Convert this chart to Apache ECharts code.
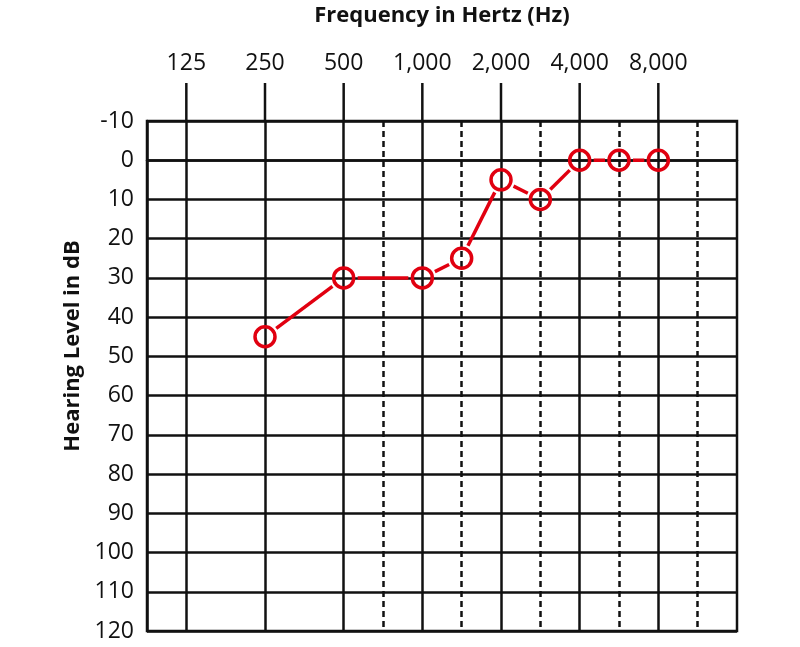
<!DOCTYPE html>
<html>
<head>
<meta charset="utf-8">
<script src="https://cdn.jsdelivr.net/npm/echarts@6/dist/echarts.min.js"></script>
<style>
html,body{margin:0;padding:0;background:#fff;}
#chart{width:800px;height:647px;}
</style>
</head>
<body>
<div id="chart"></div>
<script>
// Half-octave slots along the frequency axis (Hz)
const freqCategories = ['88','125','177','250','354','500','750','1000','1500','2000','3000','4000','6000','8000','12000','16000'];
// Labelled octave frequencies (solid lines)
const octaveFreqs = ['125','250','500','1000','2000','4000','8000'];
// Inter-octave frequencies (dashed lines)
const interOctaveFreqs = ['750','1500','3000','6000','12000'];
// Test results
const testFreqs = ['250','500','1000','1500','2000','3000','4000','6000','8000'];
const hearingLevels = [45, 30, 30, 25, 5, 10, 0, 0, 0];
// Hearing level axis
const dbMin = -10, dbMax = 120, dbStep = 10;

const RED = '#e10010';
const INK = '#111';
const FONT = 'Open Sans';
const TICK_LEN = 38;

const octaveIdx = new Set(octaveFreqs.map(f => freqCategories.indexOf(f)));
const interIdx = new Set(interOctaveFreqs.map(f => freqCategories.indexOf(f)));

const segData = testFreqs.slice(1).map((f, i) => [
  freqCategories.indexOf(testFreqs[i]), hearingLevels[i],
  freqCategories.indexOf(f), hearingLevels[i + 1]
]);
const tickData = octaveFreqs.map(f => [freqCategories.indexOf(f), dbMin]);

const chart = echarts.init(document.getElementById('chart'), null, {renderer: 'canvas'});
chart.setOption({
  backgroundColor: '#fff',
  animation: false,
  grid: {left: 147, right: 63, top: 121, bottom: 16, show: true, borderColor: INK, borderWidth: 2.5, backgroundColor: 'transparent'},
  xAxis: [{
    type: 'category',
    position: 'top',
    data: freqCategories,
    boundaryGap: false,
    name: 'Frequency in Hertz (Hz)',
    nameLocation: 'middle',
    nameGap: 94,
    nameTextStyle: {fontFamily: FONT, fontWeight: 'bold', fontSize: 22, color: INK},
    axisLine: {show: true, lineStyle: {color: INK, width: 2.5}},
    axisTick: {show: false},
    axisLabel: {show: true, interval: (i) => octaveIdx.has(i), margin: 46, fontFamily: FONT, fontSize: 23, color: INK,
      formatter: (v) => Number(v).toLocaleString('en-US')},
    splitLine: {show: true, interval: (i) => octaveIdx.has(i), lineStyle: {color: INK, width: 2.5, type: 'solid'}}
  }, {
    type: 'category',
    position: 'top',
    data: freqCategories,
    boundaryGap: false,
    axisLine: {show: false},
    axisTick: {show: false},
    axisLabel: {show: false},
    splitLine: {show: true, interval: (i) => interIdx.has(i), lineStyle: {color: INK, width: 2.5, type: [6, 4]}}
  }],
  yAxis: {
    type: 'value',
    inverse: true,
    min: dbMin, max: dbMax, interval: dbStep,
    name: 'Hearing Level in dB',
    nameLocation: 'middle',
    nameGap: 62,
    nameTextStyle: {fontFamily: FONT, fontWeight: 'bold', fontSize: 22, color: INK, padding: [0, 0, 0, 60]},
    axisLine: {show: true, lineStyle: {color: INK, width: 2.5}},
    axisTick: {show: false},
    axisLabel: {margin: 13, fontFamily: FONT, fontSize: 23, color: INK},
    splitLine: {show: true, lineStyle: {color: INK, width: 2.5}}
  },
  series: [{
    // octave tick marks above the top axis
    type: 'custom',
    xAxisIndex: 0,
    data: tickData,
    encode: {x: 0, y: 1},
    clip: false,
    silent: true,
    renderItem: function (params, api) {
      const p = api.coord([api.value(0), api.value(1)]);
      return {
        type: 'line',
        shape: {x1: p[0], y1: p[1], x2: p[0], y2: p[1] - TICK_LEN},
        style: {stroke: INK, lineWidth: 2.5}
      };
    },
    z: 2
  }, {
    type: 'custom',
    xAxisIndex: 0,
    data: segData,
    encode: {x: [0, 2], y: [1, 3]},
    renderItem: function (params, api) {
      const p1 = api.coord([api.value(0), api.value(1)]);
      const p2 = api.coord([api.value(2), api.value(3)]);
      const dx = p2[0] - p1[0], dy = p2[1] - p1[1];
      const len = Math.sqrt(dx * dx + dy * dy);
      const gap = 14;
      if (len <= 2 * gap) return null;
      const ux = dx / len, uy = dy / len;
      return {
        type: 'line',
        shape: {x1: p1[0] + ux * gap, y1: p1[1] + uy * gap, x2: p2[0] - ux * gap, y2: p2[1] - uy * gap},
        style: {stroke: RED, lineWidth: 3.5, lineCap: 'butt'}
      };
    },
    z: 3
  }, {
    type: 'scatter',
    xAxisIndex: 0,
    data: testFreqs.map((f, i) => [f, hearingLevels[i]]),
    symbol: 'circle',
    symbolSize: 20,
    itemStyle: {color: 'rgba(0,0,0,0)', borderColor: RED, borderWidth: 3.5, opacity: 1},
    z: 4
  }]
});
</script>
</body>
</html>
